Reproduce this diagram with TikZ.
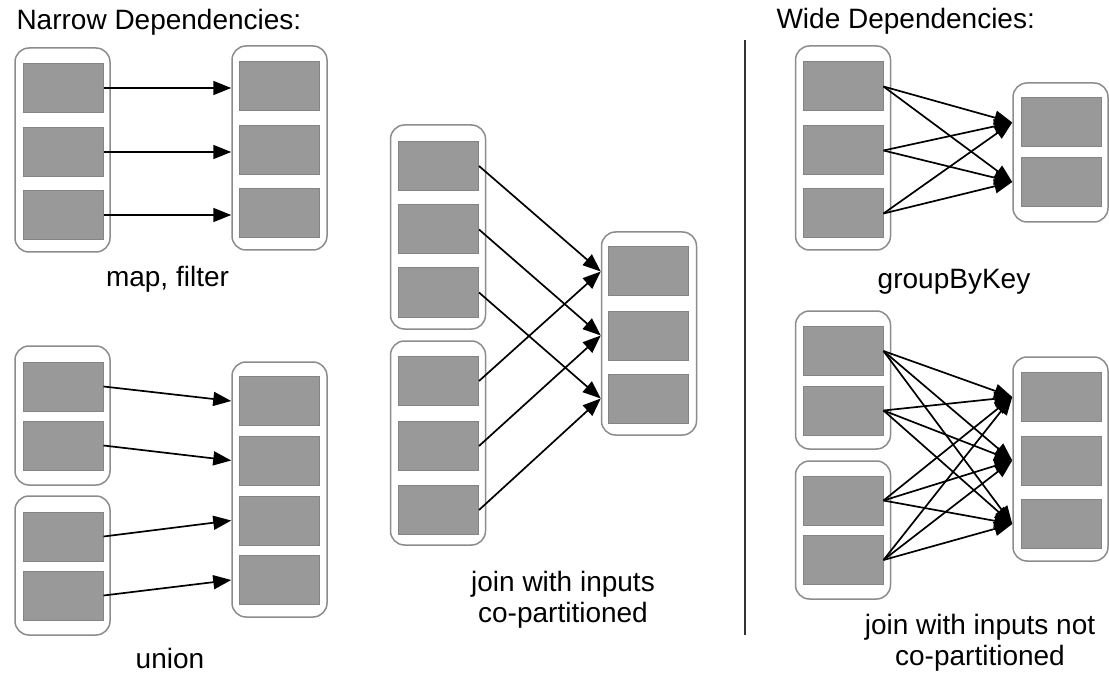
\documentclass[tikz,border=0pt]{standalone}
\usepackage{fontspec}
\setmainfont{Liberation Sans}
\usetikzlibrary{arrows.meta}

\definecolor{partgray}{RGB}{153,153,153}
\definecolor{partedge}{RGB}{132,132,132}
\definecolor{rddedge}{RGB}{140,140,140}

\tikzset{
  rdd/.style={draw=rddedge, line width=1.5pt, rounded corners=14pt, fill=white, minimum width=95pt, inner sep=0pt},
  part/.style={draw=partedge, fill=partgray, line width=1pt, minimum width=80pt, minimum height=49pt, inner sep=0pt},
  dep/.style={-{Triangle[length=18pt,width=14pt]}, line width=1.7pt},
  lbl/.style={font=\fontsize{28}{31}\selectfont, align=center},
}

\begin{document}
\begin{tikzpicture}[x=1pt,y=-1pt]
    \useasboundingbox (0,0) rectangle (1109,679);
    \node[lbl, anchor=base west] (narrow) at (13,30) {Narrow Dependencies:};
    \node[lbl, anchor=base west] (wide) at (773,29) {Wide Dependencies:};
    \draw[line width=1.5pt, black!80] (745,40) coordinate (sepTop) -- (745,635) coordinate (sepBot);

    \begin{scope}
	\node[rdd, minimum height=204pt] (mapIn) at (62.5,150) {};
	\node[rdd, minimum height=204pt] (mapOut) at (279.5,148) {};
	\foreach \i/\py in {1/88,2/152,3/215}
	    \node[part] (mapIn\i) at (63,\py) {};
	\foreach \i/\py in {1/86.5,2/150.5,3/213.5}
	    \node[part] (mapOut\i) at (279,\py) {};
	\foreach \i in {1,2,3}
	    \draw[dep] (mapIn\i.east) -- (mapIn\i.east -| mapOut.west);
	\node[lbl, anchor=base] (mapLbl) at (167.5,287) {map, filter};
    \end{scope}

    \begin{scope}
	\node[rdd, minimum height=139pt] (unionA) at (62.5,415.5) {};
	\node[rdd, minimum height=139pt] (unionB) at (62.5,565.5) {};
	\node[rdd, minimum height=255pt] (unionOut) at (279.5,489.5) {};
	\foreach \i/\py in {1/386.5,2/445.5}
	    \node[part] (unionA\i) at (63,\py) {};
	\foreach \i/\py in {1/536.5,2/595.5}
	    \node[part] (unionB\i) at (63,\py) {};
	\foreach \i/\py in {1/401,2/460.5,3/520.5,4/580}
	    \node[part] (unionOut\i) at (279,\py) {};
	\draw[dep] (unionA1.east) -- (unionOut1.west -| unionOut.west);
	\draw[dep] (unionA2.east) -- (unionOut2.west -| unionOut.west);
	\draw[dep] (unionB1.east) -- (unionOut3.west -| unionOut.west);
	\draw[dep] (unionB2.east) -- (unionOut4.west -| unionOut.west);
	\node[lbl, anchor=base] (unionLbl) at (170,668) {union};
    \end{scope}

    \begin{scope}
	\node[rdd, minimum height=204pt] (joinA) at (438,227) {};
	\node[rdd, minimum height=204pt] (joinB) at (438,443) {};
	\node[rdd, minimum height=203pt] (joinOut) at (649,333.5) {};
	\foreach \i/\py in {1/166,2/229.5,3/292.5}
	    \node[part] (joinA\i) at (438.5,\py) {};
	\foreach \i/\py in {1/381,2/446,3/510}
	    \node[part] (joinB\i) at (438.5,\py) {};
	\foreach \i/\py in {1/271.5,2/335.5,3/398.5}
	    \node[part] (joinOut\i) at (648.5,\py) {};
	\foreach \i in {1,2,3} {
	    \draw[dep] (joinA\i.east) -- (joinOut\i.west -| joinOut.west);
	    \draw[dep] (joinB\i.east) -- (joinOut\i.west -| joinOut.west);
	}
	\node[lbl] (joinLbl) at (563,600) {join with inputs\\co-partitioned};
    \end{scope}

    \begin{scope}
	\node[rdd, minimum height=204pt] (groupIn) at (843,148) {};
	\node[rdd, minimum height=139pt] (groupOut) at (1060.5,152.5) {};
	\foreach \i/\py in {1/86.5,2/150.5,3/213.5}
	    \node[part] (groupIn\i) at (843,\py) {};
	\foreach \i/\py in {1/122.5,2/182}
	    \node[part] (groupOut\i) at (1061,\py) {};
	\foreach \i in {1,2,3}
	    \foreach \j in {1,2}
		\draw[dep] (groupIn\i.east) -- (groupOut\j.west -| groupOut.west);
	\node[lbl, anchor=base] (groupLbl) at (954,288) {groupByKey};
    \end{scope}

    \begin{scope}
	\node[rdd, minimum height=138pt] (wideA) at (843,380) {};
	\node[rdd, minimum height=138pt] (wideB) at (843,530) {};
	\node[rdd, minimum height=204pt] (wideOut) at (1060.5,459) {};
	\foreach \i/\py in {1/351,2/410.5}
	    \node[part] (wideA\i) at (843,\py) {};
	\foreach \i/\py in {1/500.5,2/560}
	    \node[part] (wideB\i) at (843,\py) {};
	\foreach \i/\py in {1/397,2/460.5,3/524}
	    \node[part] (wideOut\i) at (1061,\py) {};
	\foreach \i in {1,2}
	    \foreach \j in {1,2,3} {
		\draw[dep] (wideA\i.east) -- (wideOut\j.west -| wideOut.west);
		\draw[dep] (wideB\i.east) -- (wideOut\j.west -| wideOut.west);
	    }
	\node[lbl] (wideLbl) at (980,643) {join with inputs not\\co-partitioned};
    \end{scope}
\end{tikzpicture}
\end{document}
